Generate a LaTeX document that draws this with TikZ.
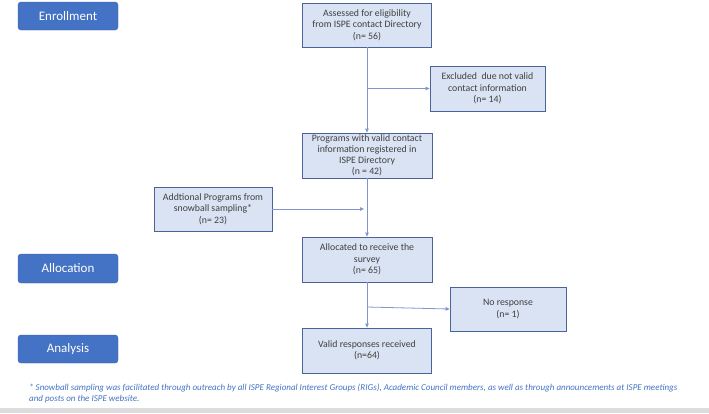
\documentclass[tikz,border=0pt]{standalone}
\usepackage{fontspec}
\setmainfont{Carlito}
\usetikzlibrary{arrows.meta}
\definecolor{btnblue}{HTML}{4472C4}
\definecolor{boxfill}{HTML}{DAE3F3}
\definecolor{boxline}{HTML}{4A6499}
\definecolor{txtgray}{HTML}{404040}
\definecolor{connblue}{HTML}{7F96CF}
\definecolor{barcol}{HTML}{DCDCDC}
\tikzset{
  phase/.style={draw=btnblue!85!black, fill=btnblue, rounded corners=3pt, minimum width=100pt, minimum height=28pt, text=white, font=\fontsize{13}{15}\selectfont, inner sep=0pt},
  flowbox/.style={draw=boxline, line width=0.8pt, fill=boxfill, text=txtgray, align=center, font=\fontsize{9.8}{11.5}\selectfont, inner sep=0pt},
  conn/.style={draw=connblue, line width=0.8pt},
  arr/.style={conn, -{Triangle[length=4pt,width=3.5pt]}},
  foot/.style={anchor=west, text=btnblue, font=\fontsize{9}{11}\selectfont\itshape, inner sep=0pt}
}
\begin{document}
\begin{tikzpicture}[x=1pt,y=1pt]
\useasboundingbox (0,0) rectangle (709,-413);
\fill[white] (0,0) rectangle (709,-413);
\fill[barcol] (0,-408) rectangle (709,-413);
% phase buttons
\node[phase] (enr) at (68,-16) {Enrollment};
\node[phase, minimum height=29pt] (alloc) at (68,-268.5) {Allocation};
\node[phase] (ana) at (68,-349) {Analysis};
% flow boxes
\node[flowbox, minimum width=129pt, minimum height=44pt] (b1) at (367,-25) {Assessed for eligibility\\from ISPE contact Directory\\(n= 56)};
\node[flowbox, minimum width=115pt, minimum height=45pt] (excl) at (487.5,-88.5) {Excluded\ \ due not valid\\contact information\\(n= 14)};
\node[flowbox, minimum width=130pt, minimum height=45pt, font=\fontsize{9.8}{10.9}\selectfont] (b2) at (367,-155.5) {Programs with valid contact\\information registered in\\ISPE Directory\\(n = 42)};
\node[flowbox, minimum width=118pt, minimum height=44pt] (addl) at (213,-209) {Addtional Programs from\\snowball sampling*\\(n= 23)};
\node[flowbox, minimum width=130pt, minimum height=45pt] (b3) at (367,-259.5) {Allocated to receive the\\survey\\(n= 65)};
\node[flowbox, minimum width=116pt, minimum height=44pt] (nores) at (508,-309) {No response\\(n= 1)};
\node[flowbox, minimum width=129pt, minimum height=45pt] (valid) at (367,-350.5) {Valid responses received\\(n=64)};
% junction coordinates
\coordinate (j1) at (367,-88.5);
\coordinate (j2) at (364,-209);
\coordinate (j3) at (367,-307);
% connectors
\draw[arr] (b1) -- (b2);
\draw[arr] (j1) -- (excl.west);
\draw[arr] (b2) -- (b3);
\draw[arr] (addl.east) -- (j2);
\draw[arr] (b3) -- (valid);
\draw[arr] (j3) -- (nores.west);
% footnote
\node[foot] (fn1) at (29,-388) {* Snowball sampling was facilitated through outreach by all ISPE Regional Interest Groups (RIGs), Academic Council members, as well as through announcements at ISPE meetings};
\node[foot] (fn2) at (29,-399) {and posts on the ISPE website.};
\end{tikzpicture}
\end{document}
